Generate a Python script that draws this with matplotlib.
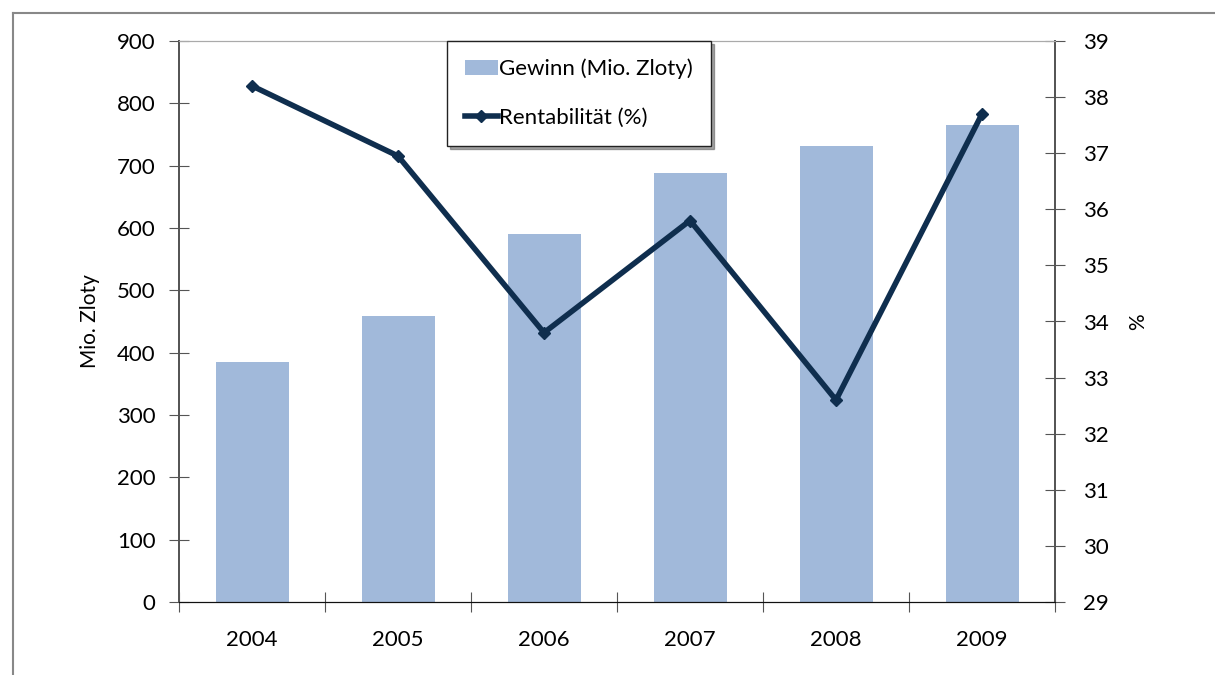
import numpy as np
import matplotlib
matplotlib.use("Agg")
import matplotlib.pyplot as plt
from matplotlib.lines import Line2D

plt.rcParams["font.family"] = ["Lato", "DejaVu Sans"]

# data
years = ["2004", "2005", "2006", "2007", "2008", "2009"]
gewinn = [385, 459, 590, 688, 731, 766]
rentabilitaet = [38.2, 36.95, 33.8, 35.8, 32.6, 37.7]

bar_color = "#a1b9da"
line_color = "#0f2e4e"

fig = plt.figure(figsize=(12.15, 6.75), dpi=100)
ax = fig.add_axes([179 / 1215, 1 - 602 / 675, 876 / 1215, 561 / 675])
ax2 = ax.twinx()

x = np.arange(len(years))
bars = ax.bar(x, gewinn, width=0.5, color=bar_color, label="Gewinn (Mio. Zloty)", zorder=2)
line, = ax2.plot(x, rentabilitaet, color=line_color, linewidth=4, marker="D",
                 markersize=6, label="Rentabilität (%)", zorder=3)

ax.set_xlim(-0.5, len(years) - 0.5)
ax.set_ylim(0, 900)
ax.set_yticks(np.arange(0, 901, 100))
ax2.set_ylim(29, 39)
ax2.set_yticks(np.arange(29, 40, 1))

# category ticks between bars, labels centred
ax.set_xticks(np.arange(-0.5, len(years), 1))
ax.set_xticklabels([])
ax.set_xticks(x, minor=True)
ax.set_xticklabels(years, minor=True)
ax.tick_params(axis="x", which="minor", length=0, labelsize=16, pad=20)
ax.tick_params(axis="x", which="major", direction="inout", length=14, color="#555555")
ax.tick_params(axis="y", direction="inout", length=14, labelsize=16, color="#555555", pad=10)
ax2.tick_params(axis="y", direction="inout", length=14, labelsize=16, color="#555555", pad=13)

ax.set_ylabel("Mio. Zloty", fontsize=15, labelpad=12)
ax2.set_ylabel("%", fontsize=15, labelpad=14)

for a in (ax, ax2):
    a.spines["top"].set_color("#aaaaaa")
    a.spines["left"].set_color("#555555")
    a.spines["right"].set_color("#555555")
    a.spines["bottom"].set_color("#111111")
    a.spines["left"].set_linewidth(1.3)
    a.spines["right"].set_linewidth(1.3)

leg = fig.legend(handles=[bars, line], loc="upper left",
                 bbox_to_anchor=(447 / 1215, 1 - 41 / 675), fontsize=16,
                 frameon=True, fancybox=False, shadow=True, handlelength=1.5,
                 handletextpad=0.05, labelspacing=1.3, borderpad=0.8,
                 borderaxespad=0.0, edgecolor="#222222")
leg.get_frame().set_linewidth(1.0)

# outer frame lines of the original chart box
fig.add_artist(Line2D([13 / 1215, 1.0], [1 - 13 / 675, 1 - 13 / 675],
                      color="#888888", linewidth=1.5))
fig.add_artist(Line2D([13 / 1215, 13 / 1215], [0.0, 1 - 13 / 675],
                      color="#888888", linewidth=1.5))

plt.savefig("out.png", dpi=100)
